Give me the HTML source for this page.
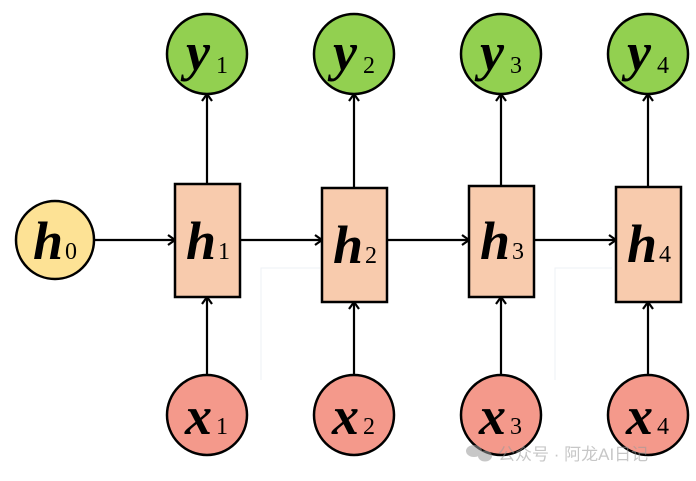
<!DOCTYPE html>
<html><head><meta charset="utf-8"><style>
html,body{margin:0;padding:0;background:#fff;width:696px;height:481px;overflow:hidden}
svg text{font-family:"Liberation Serif",serif}
</style></head><body>
<svg width="696" height="481" viewBox="0 0 696 481" xmlns="http://www.w3.org/2000/svg">
<defs>
<marker id="a" markerWidth="12" markerHeight="12" refX="9" refY="6" orient="auto" markerUnits="userSpaceOnUse">
<path d="M2,1 L9,6 L2,11" fill="none" stroke="#000" stroke-width="2.2"/>
</marker>
</defs>
<!-- faint watermark frame lines -->
<path d="M261,380 V268 H320 M555,380 V268 H612" fill="none" stroke="#eef0f5" stroke-width="1"/>
<g stroke="#000" stroke-width="2.2" fill="none">
<line x1="94" y1="240" x2="175" y2="240" marker-end="url(#a)"/>
<line x1="240" y1="240" x2="322" y2="240" marker-end="url(#a)"/>
<line x1="387" y1="240" x2="469" y2="240" marker-end="url(#a)"/>
<line x1="534" y1="240" x2="616" y2="240" marker-end="url(#a)"/>
<line x1="207" y1="184" x2="207" y2="94" marker-end="url(#a)"/>
<line x1="354" y1="188" x2="354" y2="94" marker-end="url(#a)"/>
<line x1="501" y1="186" x2="501" y2="94" marker-end="url(#a)"/>
<line x1="648" y1="187" x2="648" y2="94" marker-end="url(#a)"/>
<line x1="207" y1="375" x2="207" y2="297" marker-end="url(#a)"/>
<line x1="354" y1="375" x2="354" y2="302" marker-end="url(#a)"/>
<line x1="501" y1="375" x2="501" y2="297" marker-end="url(#a)"/>
<line x1="648" y1="375" x2="648" y2="302" marker-end="url(#a)"/>
</g>
<g stroke="#000" stroke-width="2.5">
<circle cx="55" cy="240" r="39" fill="#fde295"/>
<rect x="175" y="184" width="65" height="113" fill="#f8cbad"/>
<rect x="322" y="188" width="65" height="114" fill="#f8cbad"/>
<rect x="469" y="186" width="65" height="111" fill="#f8cbad"/>
<rect x="616" y="187" width="65" height="115" fill="#f8cbad"/>
<circle cx="207" cy="54" r="40" fill="#92d050"/>
<circle cx="354" cy="54" r="40" fill="#92d050"/>
<circle cx="501" cy="54" r="40" fill="#92d050"/>
<circle cx="648" cy="54" r="40" fill="#92d050"/>
<circle cx="207" cy="415" r="40" fill="#f4998b"/>
<circle cx="354" cy="415" r="40" fill="#f4998b"/>
<circle cx="501" cy="415" r="40" fill="#f4998b"/>
<circle cx="648" cy="415" r="40" fill="#f4998b"/>
</g>
<g fill="#000">
<text x="33" y="259" font-size="54" font-style="italic" font-weight="bold">h</text><text x="65" y="259" font-size="24">0</text>
<text x="186" y="259" font-size="54" font-style="italic" font-weight="bold">h</text><text x="218" y="259" font-size="24">1</text>
<text x="333" y="263" font-size="54" font-style="italic" font-weight="bold">h</text><text x="365" y="263" font-size="24">2</text>
<text x="480" y="259" font-size="54" font-style="italic" font-weight="bold">h</text><text x="512" y="259" font-size="24">3</text>
<text x="627" y="262" font-size="54" font-style="italic" font-weight="bold">h</text><text x="659" y="262" font-size="24">4</text>
<text x="186" y="70" font-size="54" font-style="italic" font-weight="bold">y</text><text x="216" y="73" font-size="24">1</text>
<text x="333" y="70" font-size="54" font-style="italic" font-weight="bold">y</text><text x="363" y="73" font-size="24">2</text>
<text x="480" y="70" font-size="54" font-style="italic" font-weight="bold">y</text><text x="510" y="73" font-size="24">3</text>
<text x="627" y="70" font-size="54" font-style="italic" font-weight="bold">y</text><text x="657" y="73" font-size="24">4</text>
<text x="185" y="434" font-size="54" font-style="italic" font-weight="bold">x</text><text x="216" y="434" font-size="24">1</text>
<text x="332" y="434" font-size="54" font-style="italic" font-weight="bold">x</text><text x="363" y="434" font-size="24">2</text>
<text x="479" y="434" font-size="54" font-style="italic" font-weight="bold">x</text><text x="510" y="434" font-size="24">3</text>
<text x="626" y="434" font-size="54" font-style="italic" font-weight="bold">x</text><text x="657" y="434" font-size="24">4</text>
</g>
<g opacity="0.55" fill="#9a9a9a">
<ellipse cx="474" cy="451" rx="8" ry="6"/><ellipse cx="485" cy="456" rx="7" ry="5.5"/>
<text x="498" y="460" font-size="17" style="font-family:'Liberation Sans','Noto Sans CJK SC',sans-serif">公众号 · 阿龙AI日记</text>
</g>
</svg>
</body></html>
